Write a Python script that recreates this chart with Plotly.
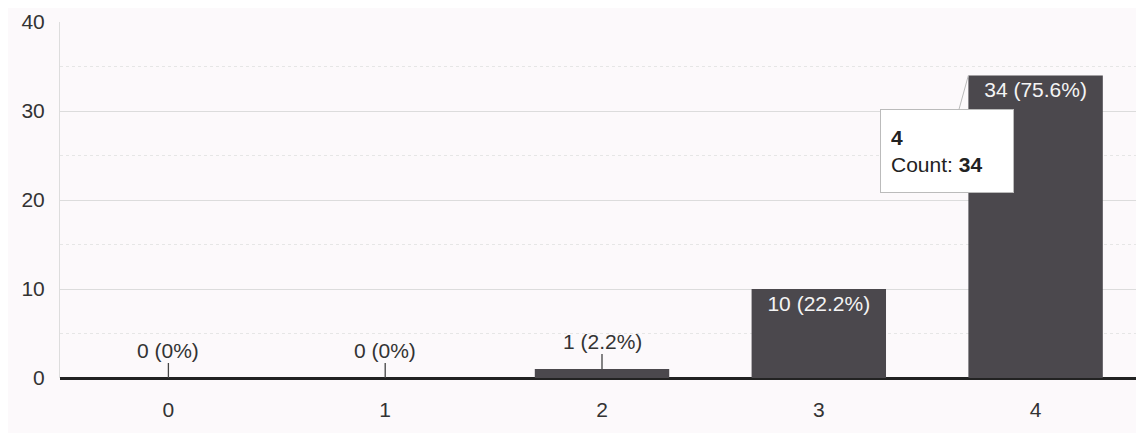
import plotly.graph_objects as go

categories = ["0", "1", "2", "3", "4"]
counts = [0, 0, 1, 10, 34]
y_ticks = [0, 10, 20, 30, 40]

total = sum(counts)
labels = []
for c in counts:
    p = c / total * 100
    labels.append(f"{c} ({p:.0f}%)" if p == round(p) else f"{c} ({p:.1f}%)")

BAR = "#4b484d"
FONT = "Liberation Sans, Arial, sans-serif"

inside_text = [lab if c >= 5 else "" for lab, c in zip(labels, counts)]

fig = go.Figure()
fig.add_trace(go.Bar(
    x=categories, y=counts, marker=dict(color=BAR, line=dict(width=0)),
    text=inside_text, textposition="inside", insidetextanchor="end",
    textangle=0, textfont=dict(color="#f4f4f4", size=21, family=FONT),
    cliponaxis=False, hoverinfo="skip",
))

annotations = []
for cat, c, lab in zip(categories, counts, labels):
    if c < 5:
        annotations.append(dict(
            x=cat, y=c, xref="x", yref="y", text=lab, showarrow=True,
            arrowhead=0, arrowwidth=1.3, arrowcolor="#444", ax=0, ay=-28,
            font=dict(size=21, color="#333", family=FONT),
        ))

# tooltip callout on the last bar
annotations.append(dict(
    x=3.69, y=counts[-1], xref="x", yref="y",
    text=f"<b>{categories[-1]}</b><br>Count: <b>{counts[-1]}</b>",
    align="left", valign="middle", showarrow=True, arrowhead=0, arrowwidth=1,
    arrowcolor="#bbb", ax=-21, ay=76, bgcolor="white", bordercolor="#bbb",
    borderwidth=1, borderpad=10, width=112, height=62,
    font=dict(size=21, color="#222", family=FONT),
))

fig.update_layout(
    width=1136, height=425,
    margin=dict(l=52, r=0, t=14, b=55),
    paper_bgcolor="#fcf9fb", plot_bgcolor="#fcf9fb",
    bargap=0.38, showlegend=False,
    font=dict(family=FONT, size=21, color="#333"),
    annotations=annotations,
    xaxis=dict(showgrid=False, ticks="", tickfont=dict(size=21, color="#333"),
               showline=False, zeroline=False, ticklabelstandoff=17),
    yaxis=dict(range=[0, 40], tickvals=y_ticks, ticktext=[str(v) for v in y_ticks],
               showgrid=True, gridcolor="#dcdcdc", gridwidth=1,
               zeroline=True, zerolinecolor="#222", zerolinewidth=2.5,
               showline=True, linecolor="#dddddd", linewidth=1,
               ticks="", ticklabelstandoff=10, tickfont=dict(size=21, color="#333"),
               minor=dict(tickvals=[5, 15, 25, 35], showgrid=True, gridcolor="#e6e6e6",
                          griddash="dot", gridwidth=1)),
)

fig.write_html("out.html")
